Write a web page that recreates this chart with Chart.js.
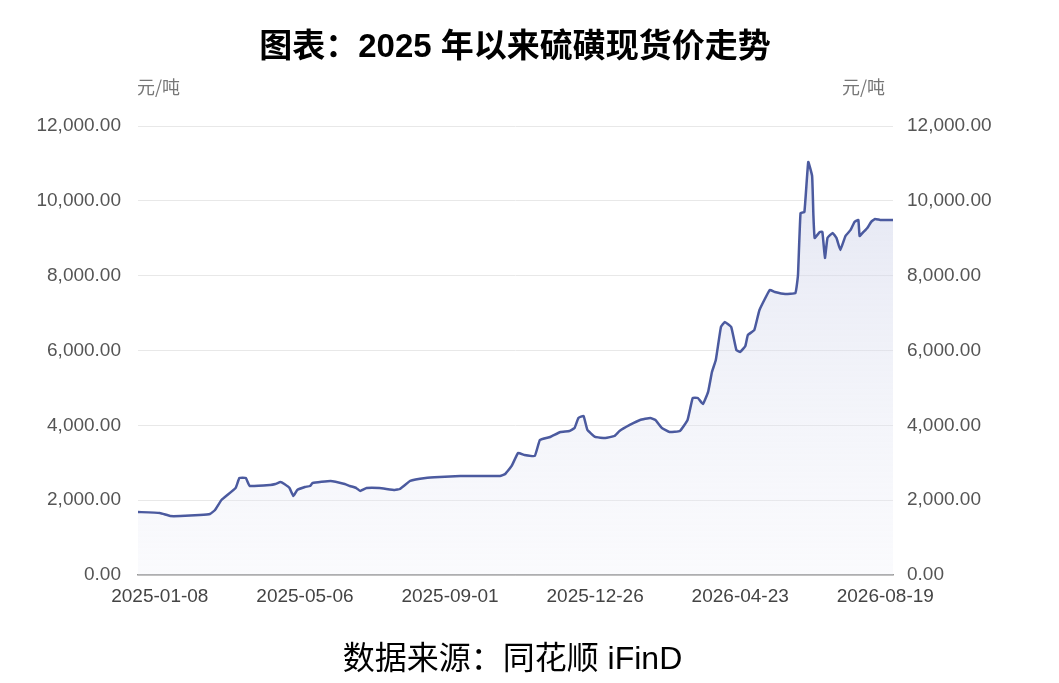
<!DOCTYPE html>
<html>
<head>
<meta charset="utf-8">
<script src="https://cdn.jsdelivr.net/npm/chart.js@4"></script>
<style>
  body { margin: 0; background: #fff; font-family: "Liberation Sans", "Noto Sans CJK SC", sans-serif; }
  #wrap { position: relative; width: 1059px; height: 683px; }
  canvas { position: absolute; left: 0; top: 0; }
  .txt { position: absolute; white-space: nowrap; }
  #title { top: 19px; left: 0; width: 1030px; text-align: center; font-size: 33px; font-weight: bold; color: #000; }
  #src { top: 632px; left: 0; width: 1025px; text-align: center; font-size: 32px; color: #000; }
  .unit { top: 73px; font-size: 18px; color: #777; font-family: "Noto Sans CJK SC", sans-serif; }
</style>
</head>
<body>
<div id="wrap">
  <canvas id="chart" width="1059" height="683"></canvas>
  <div class="txt" id="title">图表：2025 年以来硫磺现货价走势</div>
  <div class="txt unit" style="left:137px">元/吨</div>
  <div class="txt unit" style="left:842px">元/吨</div>
  <div class="txt" id="src">数据来源：同花顺 iFinD</div>
</div>
<script>
// days since start of series
const days = [0, 17, 25, 33, 48, 56, 60, 65, 76, 79, 84, 87, 103, 107, 111, 114, 118, 121, 124, 130, 134, 136, 150, 161, 165, 170, 173, 178, 188, 200, 204, 212, 224, 235, 251, 266, 282, 286, 291, 296, 301, 309, 313, 321, 329, 336, 340, 343, 347, 350, 356, 364, 371, 375, 383, 391, 399, 403, 408, 414, 422, 428, 432, 436, 440, 444, 447, 450, 454, 457, 462, 466, 469, 473, 475, 480, 484, 492, 496, 504, 512, 514, 516, 519, 522, 525, 526, 527, 531, 533, 535, 537, 541, 544, 547, 551, 555, 558, 561, 562, 565, 568, 571, 574, 578, 588];
const prices = [1684, 1657, 1577, 1577, 1604, 1630, 1737, 2005, 2325, 2593, 2593, 2379, 2406, 2432, 2486, 2432, 2325, 2112, 2272, 2352, 2379, 2459, 2513, 2432, 2379, 2325, 2245, 2325, 2325, 2272, 2299, 2513, 2593, 2620, 2646, 2646, 2646, 2700, 2914, 3261, 3208, 3181, 3609, 3689, 3822, 3849, 3929, 4197, 4250, 3876, 3689, 3662, 3715, 3849, 4010, 4143, 4197, 4143, 3929, 3822, 3849, 4143, 4731, 4731, 4571, 4892, 5426, 5747, 6629, 6763, 6629, 6014, 5961, 6121, 6415, 6549, 7083, 7618, 7565, 7511, 7538, 8019, 9676, 9703, 11039, 10665, 9623, 9008, 9168, 9168, 8473, 9008, 9142, 9008, 8687, 9061, 9222, 9436, 9489, 9061, 9168, 9275, 9436, 9516, 9489, 9489];
const tickDays = [17, 130, 243, 356, 469, 582];
const tickLabels = ["2025-01-08", "2025-05-06", "2025-09-01", "2025-12-26", "2026-04-23", "2026-08-19"];

const points = days.map((d, i) => ({ x: d, y: prices[i] }));
const fmt = (v) => v.toLocaleString("en-US", { minimumFractionDigits: 2, maximumFractionDigits: 2 });
const tickFont = { family: "Liberation Sans, Arial, sans-serif", size: 19 };

const ctx = document.getElementById("chart").getContext("2d");
const fillGrad = ctx.createLinearGradient(0, 126, 0, 575);
fillGrad.addColorStop(0, "rgba(200, 205, 230, 0.55)");
fillGrad.addColorStop(1, "rgba(235, 237, 247, 0.25)");

new Chart(ctx, {
    type: "line",
    data: {
        datasets: [
            {
                data: points,
                borderColor: "#4b5a9f",
                backgroundColor: fillGrad,
                borderWidth: 2.5,
                pointRadius: 0,
                fill: true,
                tension: 0.1,
                yAxisID: "y",
            },
        ],
    },
    options: {
        responsive: false,
        animation: false,
        layout: { padding: { top: 126, left: 0, right: 0, bottom: 0 } },
        plugins: { legend: { display: false }, tooltip: { enabled: false } },
        scales: {
            x: {
                type: "linear",
                min: 0,
                max: 588,
                afterBuildTicks: (axis) => {
                    axis.ticks = tickDays.map((v) => ({ value: v }));
                },
                afterFit: (axis) => { axis.height = 108; },
                grid: { display: false, drawTicks: false },
                border: { color: "#999", width: 1.5 },
                ticks: {
                    autoSkip: false,
                    maxRotation: 0,
                    padding: 10,
                    color: "#444",
                    font: tickFont,
                    callback: (v) => tickLabels[tickDays.indexOf(v)] || "",
                },
            },
            y: {
                position: "left",
                min: 0,
                max: 12000,
                afterFit: (axis) => { axis.width = 138; },
                grid: { color: "#e8e8e8", drawTicks: false },
                border: { display: false },
                ticks: { stepSize: 2000, padding: 17, color: "#555", font: tickFont, callback: fmt },
            },
            y1: {
                position: "right",
                min: 0,
                max: 12000,
                afterFit: (axis) => { axis.width = 166; },
                grid: { display: false, drawTicks: false },
                border: { display: false },
                ticks: { stepSize: 2000, padding: 14, color: "#555", font: tickFont, callback: fmt },
            },
        },
    },
});
</script>
</body>
</html>
